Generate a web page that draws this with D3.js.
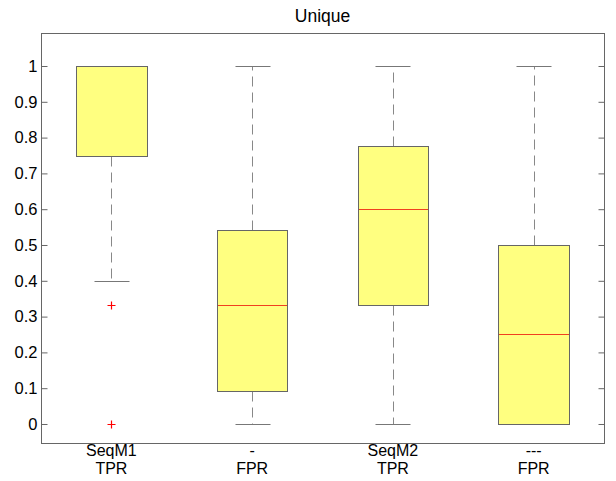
<!DOCTYPE html>
<html><head><meta charset="utf-8">
<script src="https://cdn.jsdelivr.net/npm/d3@7"></script>
<style>body{margin:0;background:#fff}svg{display:block;font-family:"Liberation Sans",Arial,sans-serif}</style>
</head><body><svg id="c" width="616" height="481"></svg>
<script>
const labelTop = ["SeqM1", "-", "SeqM2", "---"];
const labelBottom = ["TPR", "FPR", "TPR", "FPR"];
const whiskerLow = [0.4, 0, 0, 0];
const q1 = [0.75, 0.093, 0.333, 0];
const median = [1.0, 0.333, 0.6, 0.25];
const q3 = [1.0, 0.543, 0.777, 0.5];
const whiskerHigh = [1.0, 1, 1, 1];
const outliers = [[0.333, 0], [], [], []];
const yTicks = [0, 0.1, 0.2, 0.3, 0.4, 0.5, 0.6, 0.7, 0.8, 0.9, 1];

const svg = d3.select("#c");
const m = {l: 41, r: 604, t: 33, b: 443};
const x = d3.scaleLinear().domain([0.5, 4.5]).range([m.l, m.r]);
const y = d3.scaleLinear().domain([-0.0531, 1.0922]).range([m.b, m.t]);
const py = v => Math.round(y(v)) + 0.5;
const px = v => Math.round(x(v)) + 0.5;
const bw = 0.5, cw = 0.25;
const stroke = "#666";

svg.append("text").attr("x", (m.l + m.r) / 2).attr("y", 22).attr("text-anchor", "middle")
  .attr("font-size", 17.5).text("Unique");

const data = labelTop.map((d, i) => ({i, pos: i + 1, lo: whiskerLow[i], q1: q1[i], med: median[i], q3: q3[i], hi: whiskerHigh[i], out: outliers[i]}));

const g = svg.append("g");
data.forEach(d => {
  const gg = g.append("g");
  const cx = px(d.pos);
  if (d.hi > d.q3) {
    gg.append("line").attr("x1", cx).attr("x2", cx).attr("y1", py(d.q3)).attr("y2", py(d.hi))
      .attr("stroke", "#888").attr("stroke-dasharray", "10,6").attr("stroke-width", 1);
  }
  if (d.lo < d.q1) {
    gg.append("line").attr("x1", cx).attr("x2", cx).attr("y1", py(d.q1)).attr("y2", py(d.lo))
      .attr("stroke", "#888").attr("stroke-dasharray", "10,6").attr("stroke-width", 1);
  }
  [d.lo, d.hi].forEach(v => {
    gg.append("line").attr("x1", px(d.pos - cw / 2)).attr("x2", px(d.pos + cw / 2)).attr("y1", py(v)).attr("y2", py(v))
      .attr("stroke", "#777").attr("stroke-width", 1);
  });
  const bx0 = px(d.pos - bw / 2), bx1 = px(d.pos + bw / 2);
  gg.append("rect").attr("x", bx0).attr("width", bx1 - bx0)
    .attr("y", py(d.q3)).attr("height", py(d.q1) - py(d.q3)).attr("fill", "#ffff80");
  gg.append("line").attr("x1", bx0).attr("x2", bx1).attr("y1", py(d.med)).attr("y2", py(d.med))
    .attr("stroke", "#f04020").attr("stroke-width", 1);
  gg.append("rect").attr("x", bx0).attr("width", bx1 - bx0)
    .attr("y", py(d.q3)).attr("height", py(d.q1) - py(d.q3)).attr("fill", "none").attr("stroke", stroke).attr("stroke-width", 1);
  d.out.forEach(v => {
    const cy = py(v);
    gg.append("path").attr("d", `M${cx - 4},${cy}H${cx + 4}M${cx},${cy - 4}V${cy + 4}`).attr("stroke", "red").attr("stroke-width", 1.2);
  });
});

svg.append("rect").attr("x", m.l + 0.5).attr("y", m.t + 0.5).attr("width", m.r - m.l).attr("height", m.b - m.t)
  .attr("fill", "none").attr("stroke", stroke).attr("stroke-width", 1);

const yl = d3.axisLeft(y).tickValues(yTicks).tickSize(-6).tickFormat(d3.format("~g")).tickPadding(4);
const ga = svg.append("g").attr("transform", `translate(${m.l + 0.5},0)`).call(yl);
ga.select(".domain").remove();
ga.selectAll("line").attr("stroke", stroke);
ga.selectAll("text").attr("font-size", 16.5).attr("fill", "#000").attr("font-family", "Liberation Sans, Arial, sans-serif");
const yr = d3.axisRight(y).tickValues(yTicks).tickSize(-6).tickFormat("");
const gr = svg.append("g").attr("transform", `translate(${m.r + 0.5},0)`).call(yr);
gr.select(".domain").remove();
gr.selectAll("line").attr("stroke", stroke);

data.forEach(d => {
  svg.append("text").attr("x", x(d.pos)).attr("y", 456).attr("text-anchor", "middle").attr("font-size", 16).text(labelTop[d.i]);
  svg.append("text").attr("x", x(d.pos)).attr("y", 474).attr("text-anchor", "middle").attr("font-size", 16).text(labelBottom[d.i]);
});
</script></body></html>
